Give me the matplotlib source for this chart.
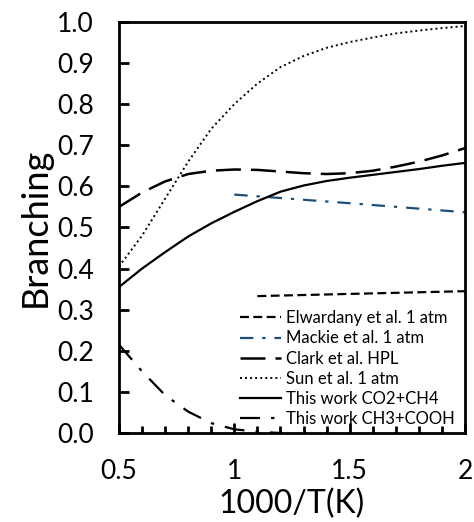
import numpy as np
import matplotlib
matplotlib.use('Agg')
import matplotlib.pyplot as plt
from matplotlib.ticker import MultipleLocator

plt.rcParams['font.family'] = ['Lato', 'DejaVu Sans']

# values
x_elw = [1.1, 1.4, 1.7, 2.0]
y_elw = [0.333, 0.337, 0.341, 0.345]

x_mac = [1.0, 1.5, 2.0]
y_mac = [0.58, 0.559, 0.537]

x_clark = [0.5, 0.6, 0.7, 0.8, 0.9, 1.0, 1.1, 1.2, 1.3, 1.4, 1.5, 1.6, 1.7, 1.8, 1.9, 2.0]
y_clark = [0.55, 0.585, 0.612, 0.63, 0.638, 0.641, 0.64, 0.636, 0.632, 0.63, 0.632, 0.638, 0.648, 0.66, 0.675, 0.693]

x_sun = [0.5, 0.6, 0.7, 0.8, 0.9, 1.0, 1.1, 1.2, 1.3, 1.4, 1.5, 1.6, 1.7, 1.8, 1.9, 2.0]
y_sun = [0.405, 0.48, 0.57, 0.66, 0.74, 0.80, 0.85, 0.89, 0.917, 0.937, 0.951, 0.962, 0.972, 0.979, 0.985, 0.99]

x_co2 = [0.5, 0.6, 0.7, 0.8, 0.9, 1.0, 1.1, 1.2, 1.3, 1.4, 1.5, 1.6, 1.7, 1.8, 1.9, 2.0]
y_co2 = [0.355, 0.40, 0.44, 0.478, 0.51, 0.538, 0.564, 0.587, 0.602, 0.613, 0.621, 0.628, 0.635, 0.642, 0.65, 0.657]

x_ch3 = [0.5, 0.6, 0.7, 0.8, 0.9, 1.0, 1.1, 1.2]
y_ch3 = [0.215, 0.15, 0.092, 0.052, 0.024, 0.009, 0.003, 0.0]

xtick_vals = [0.5, 1.0, 1.5, 2.0]
xtick_text = ['0.5', '1', '1.5', '2']
ytick_vals = [0.0, 0.1, 0.2, 0.3, 0.4, 0.5, 0.6, 0.7, 0.8, 0.9, 1.0]

fig = plt.figure(figsize=(4.74, 5.22), dpi=100)
ax = fig.add_axes([0.251, 0.1705, 0.73, 0.7875])

ax.plot(x_elw, y_elw, color='black', lw=1.6, dashes=(4, 2), label='Elwardany et al. 1 atm')
ax.plot(x_mac, y_mac, color='#1f4e79', lw=1.6, dashes=(6, 4, 1.5, 4), label='Mackie et al. 1 atm')
ax.plot(x_clark, y_clark, color='black', lw=1.8, dashes=(10, 4), label='Clark et al. HPL')
ax.plot(x_sun, y_sun, color='black', lw=1.4, dashes=(1, 1.6), label='Sun et al. 1 atm')
ax.plot(x_co2, y_co2, color='black', lw=1.6, label='This work CO2+CH4')
ax.plot(x_ch3, y_ch3, color='black', lw=1.6, dashes=(9, 5, 1.5, 5), label='This work CH3+COOH')

ax.set_xlim(0.5, 2.0)
ax.set_ylim(0.0, 1.0)
ax.xaxis.set_minor_locator(MultipleLocator(0.1))
ax.set_xticks(xtick_vals)
ax.set_xticklabels(xtick_text)
ax.set_yticks(ytick_vals)
ax.set_yticklabels(['%.1f' % v for v in ytick_vals])

ax.tick_params(which='major', direction='in', length=7, width=2, labelsize=19)
ax.tick_params(which='minor', direction='in', length=5, width=2)
ax.tick_params(axis='y', pad=18)
ax.tick_params(axis='x', pad=19)
for s in ax.spines.values():
    s.set_linewidth(2)

ax.set_xlabel('1000/T(K)', fontsize=23, labelpad=3)
ax.set_ylabel('Branching', fontsize=26, labelpad=4)

ax.legend(loc='lower right', frameon=False, fontsize=12, handlelength=2.5,
          handletextpad=0.3, labelspacing=0.25, borderaxespad=0.2,
          bbox_to_anchor=(1.0, -0.01))

fig.savefig('out.png', dpi=100)
